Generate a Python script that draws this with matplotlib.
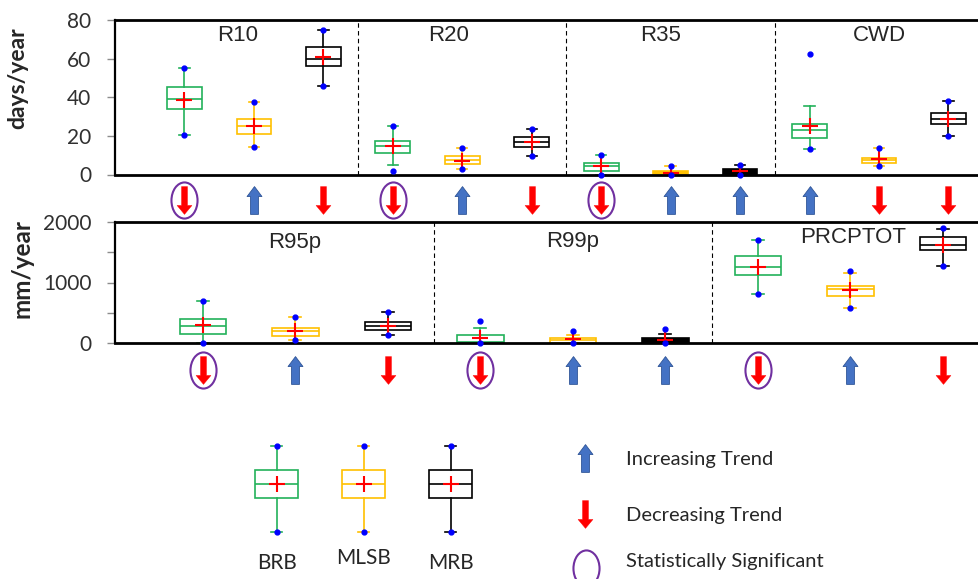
import numpy as np
import matplotlib.pyplot as plt
from matplotlib.path import Path

plt.rcParams['font.family'] = ['Lato', 'DejaVu Sans']

basins = ['BRB', 'MLSB', 'MRB']
basin_colors = ['#23B15A', '#FFC000', '#000000']

# upper panel (days/year): R10, R20, R35, CWD  x  BRB, MLSB, MRB
top_names = ['R10', 'R20', 'R35', 'CWD']
top_max = [55, 37.7, 75, 25, 13.8, 23.7, 10.2, 4.3, 5.0, 62.3, 13.8, 38.2]
top_whishi = [55, 37.7, 75, 25, 13.8, 23.7, 10.2, 4.3, 5.0, 35.4, 13.8, 38.2]
top_q3 = [45.1, 28.8, 66, 17.6, 9.5, 19.2, 6.2, 1.9, 2.6, 25.9, 8.8, 32.0]
top_med = [39, 25, 59.6, 14.7, 7.4, 16.9, 4.5, 1.0, 1.0, 23.0, 7.4, 28.5]
top_q1 = [33.9, 21.2, 56.3, 11.2, 5.4, 14.3, 1.6, 0.2, 0, 18.8, 6.0, 26.4]
top_whislo = [20.4, 14.3, 45.8, 4.8, 2.6, 9.8, 0, 0, 0, 13.0, 4.5, 19.7]
top_min = [20.4, 14.3, 45.8, 1.7, 2.6, 9.8, 0, 0, 0, 13.0, 4.5, 19.7]
top_mean = [38.5, 25, 61, 14.7, 7.1, 16.9, 4.5, 1.0, 1.9, 25.0, 7.9, 28.8]
top_trend = ['down', 'up', 'down', 'down', 'up', 'down',
             'down', 'up', 'up', 'up', 'down', 'down']
top_sig = [1, 0, 0, 1, 0, 0, 1, 0, 0, 0, 0, 0]

# lower panel (mm/year): R95p, R99p, PRCPTOT
bot_names = ['R95p', 'R99p', 'PRCPTOT']
bot_max = [701, 433, 510, 364, 204, 231, 1708, 1196, 1901]
bot_whishi = [701, 433, 510, 248, 132, 154, 1708, 1157, 1890]
bot_q3 = [395, 247, 340, 127, 83, 88, 1438, 937, 1752]
bot_med = [279, 192, 279, 17, 44, 30, 1251, 893, 1620]
bot_q1 = [148, 121, 219, 0, 6, 0, 1124, 771, 1537]
bot_whislo = [0, 55, 126, 0, 0, 0, 815, 579, 1267]
bot_min = [0, 55, 126, 0, 0, 0, 815, 579, 1267]
bot_mean = [290, 203, 274, 83, 66, 55, 1251, 871, 1620]
bot_trend = ['down', 'up', 'down', 'down', 'up', 'up', 'down', 'up', 'down']
bot_sig = [1, 0, 0, 1, 0, 0, 1, 0, 0]

# arrow / ellipse markers
up_arrow = Path([(0, 14), (7.5, 4), (4, 4), (4, -14), (-4, -14), (-4, 4), (-7.5, 4), (0, 14)],
                [Path.MOVETO] + [Path.LINETO] * 6 + [Path.CLOSEPOLY])
down_arrow = Path([(0, -14), (7.5, -5), (3, -5), (3, 14), (-3, 14), (-3, -5), (-7.5, -5), (0, -14)],
                  [Path.MOVETO] + [Path.LINETO] * 6 + [Path.CLOSEPOLY])
circ = Path.unit_circle()
ellipse = Path(circ.vertices * [13 / 18, 1], circ.codes)

up_style = dict(marker=up_arrow, ms=20, mfc='#4472C4', mec='#2F5597', mew=0.6, ls='none', clip_on=False)
down_style = dict(marker=down_arrow, ms=20, mfc='#FF0000', mec='#FF0000', mew=0.3, ls='none', clip_on=False)
sig_style = dict(marker=ellipse, ms=26, mfc='none', mec='#7030A0', mew=1.5, ls='none', clip_on=False)
mean_style = dict(marker='+', markeredgecolor='#FF0000', markersize=11, markeredgewidth=1.5)


def draw_boxes(ax, pos, width, capw, mx, whi, q3, med, q1, wlo, mn, mean, fills):
    stats = []
    for i in range(len(pos)):
        stats.append(dict(med=med[i], q1=q1[i], q3=q3[i], whislo=wlo[i], whishi=whi[i],
                          mean=mean[i], fliers=[]))
    bp = ax.bxp(stats, positions=pos, widths=width, capwidths=capw, showmeans=True,
                showfliers=False, patch_artist=True, manage_ticks=False,
                meanprops=mean_style)
    for i in range(len(pos)):
        c = basin_colors[i % 3]
        bp['boxes'][i].set_edgecolor(c)
        bp['boxes'][i].set_facecolor(fills[i])
        bp['boxes'][i].set_linewidth(1.2)
        bp['medians'][i].set_color(c)
        bp['medians'][i].set_linewidth(1.2)
        for k in (2 * i, 2 * i + 1):
            bp['whiskers'][k].set_color(c)
            bp['whiskers'][k].set_linewidth(1.2)
            bp['caps'][k].set_color(c)
            bp['caps'][k].set_linewidth(1.2)
    ax.plot(pos, mx, 'o', color='#0000FF', ms=3.5, zorder=4, clip_on=False)
    ax.plot(pos, mn, 'o', color='#0000FF', ms=3.5, zorder=4, clip_on=False)


def draw_trends(ax, pos, trend, sig, yrow):
    tr = ax.get_xaxis_transform()
    pos = np.asarray(pos)
    up = [t == 'up' for t in trend]
    down = [t == 'down' for t in trend]
    s = [bool(v) for v in sig]
    ax.plot(pos[up], [yrow] * sum(up), transform=tr, **up_style)
    ax.plot(pos[down], [yrow] * sum(down), transform=tr, **down_style)
    ax.plot(pos[s], [yrow] * sum(s), transform=tr, **sig_style)


def style_axes(ax):
    for side in ('top', 'bottom'):
        ax.spines[side].set_linewidth(2.0)
    ax.spines['left'].set_linewidth(1.6)
    ax.spines['right'].set_visible(False)
    ax.set_xticks([])
    ax.tick_params(axis='y', direction='out', length=6, width=1, color='#8C8C8C',
                   labelsize=15, labelcolor='#303030', pad=11)


fig = plt.figure(figsize=(9.79, 5.79), dpi=100)

# ---- upper panel
ax1 = fig.add_axes([115 / 979, 1 - 174.5 / 579, 1 - 115 / 979, 154.5 / 579])
pos1 = np.arange(1, 13)
fills1 = ['white'] * 12
fills1[7] = '#FFC000'
fills1[8] = '#000000'
draw_boxes(ax1, pos1, 0.5, 0.15, top_max, top_whishi, top_q3, top_med, top_q1,
           top_whislo, top_min, top_mean, fills1)
for x in (3.5, 6.5, 9.5):
    ax1.axvline(x, color='black', ls=(0, (4, 3)), lw=0.8)
ax1.set_xlim(0, 12.44)
ax1.set_ylim(0, 80)
ax1.set_yticks([0, 20, 40, 60, 80])
style_axes(ax1)
for name, x in zip(top_names, [1.76, 4.8, 7.85, 11.0]):
    ax1.text(x, 0.9, name, transform=ax1.get_xaxis_transform(), ha='center', va='center',
             fontsize=16, family=['Liberation Sans'], color='#262626')
draw_trends(ax1, pos1, top_trend, top_sig, -0.165)

# ---- lower panel
ax2 = fig.add_axes([115 / 979, 1 - 343 / 579, 1 - 115 / 979, 121 / 579])
pos2 = np.arange(1, 10)
fills2 = ['white'] * 9
fills2[5] = '#000000'
draw_boxes(ax2, pos2, 0.5, 0.13, bot_max, bot_whishi, bot_q3, bot_med, bot_q1,
           bot_whislo, bot_min, bot_mean, fills2)
for x in (3.5, 6.5):
    ax2.axvline(x, color='black', ls=(0, (4, 3)), lw=0.8)
ax2.set_xlim(0.05, 9.39)
ax2.set_ylim(0, 2000)
ax2.set_yticks([0, 500, 1000, 1500, 2000])
ax2.set_yticklabels(['0', '', '1000', '', '2000'])
style_axes(ax2)
for name, x, y in zip(bot_names, [1.99, 5.0, 8.03], [0.83, 0.835, 0.875]):
    ax2.text(x, y, name, transform=ax2.get_xaxis_transform(), ha='center', va='center',
             fontsize=16, family=['Liberation Sans'], color='#262626')
draw_trends(ax2, pos2, bot_trend, bot_sig, -0.223)

fig.text(18 / 979, 1 - 78 / 579, 'days/year', rotation=90, ha='center', va='center',
         fontsize=16.5, fontweight='bold', color='#262626')
fig.text(22 / 979, 1 - 269 / 579, 'mm/year', rotation=90, ha='center', va='center',
         fontsize=17.5, fontweight='bold', color='#262626')

# ---- legend
lax = fig.add_axes([0, 0, 1, 1])
lax.set_xlim(0, 979)
lax.set_ylim(579, 0)
lax.axis('off')
leg_pos = [277, 364, 451]
leg_stats = [[446] * 3, [446] * 3, [470] * 3, [484] * 3, [498] * 3, [532] * 3, [532] * 3, [484] * 3]
draw_boxes(lax, leg_pos, 43, 11, *leg_stats, ['white'] * 3)
for x, y, name in zip(leg_pos, [563, 558, 563], basins):
    lax.text(x, y, name, ha='center', va='center', fontsize=15, color='#262626')

lax.plot([585], [458], **up_style)
lax.plot([585], [514], **down_style)
lax.plot([586], [568], **sig_style)
for y, txt in zip([460, 515, 562], ['Increasing Trend', 'Decreasing Trend', 'Statistically Significant']):
    lax.text(626, y, txt, ha='left', va='center', fontsize=14.5, color='#262626')

fig.savefig('out.png', dpi=100)
